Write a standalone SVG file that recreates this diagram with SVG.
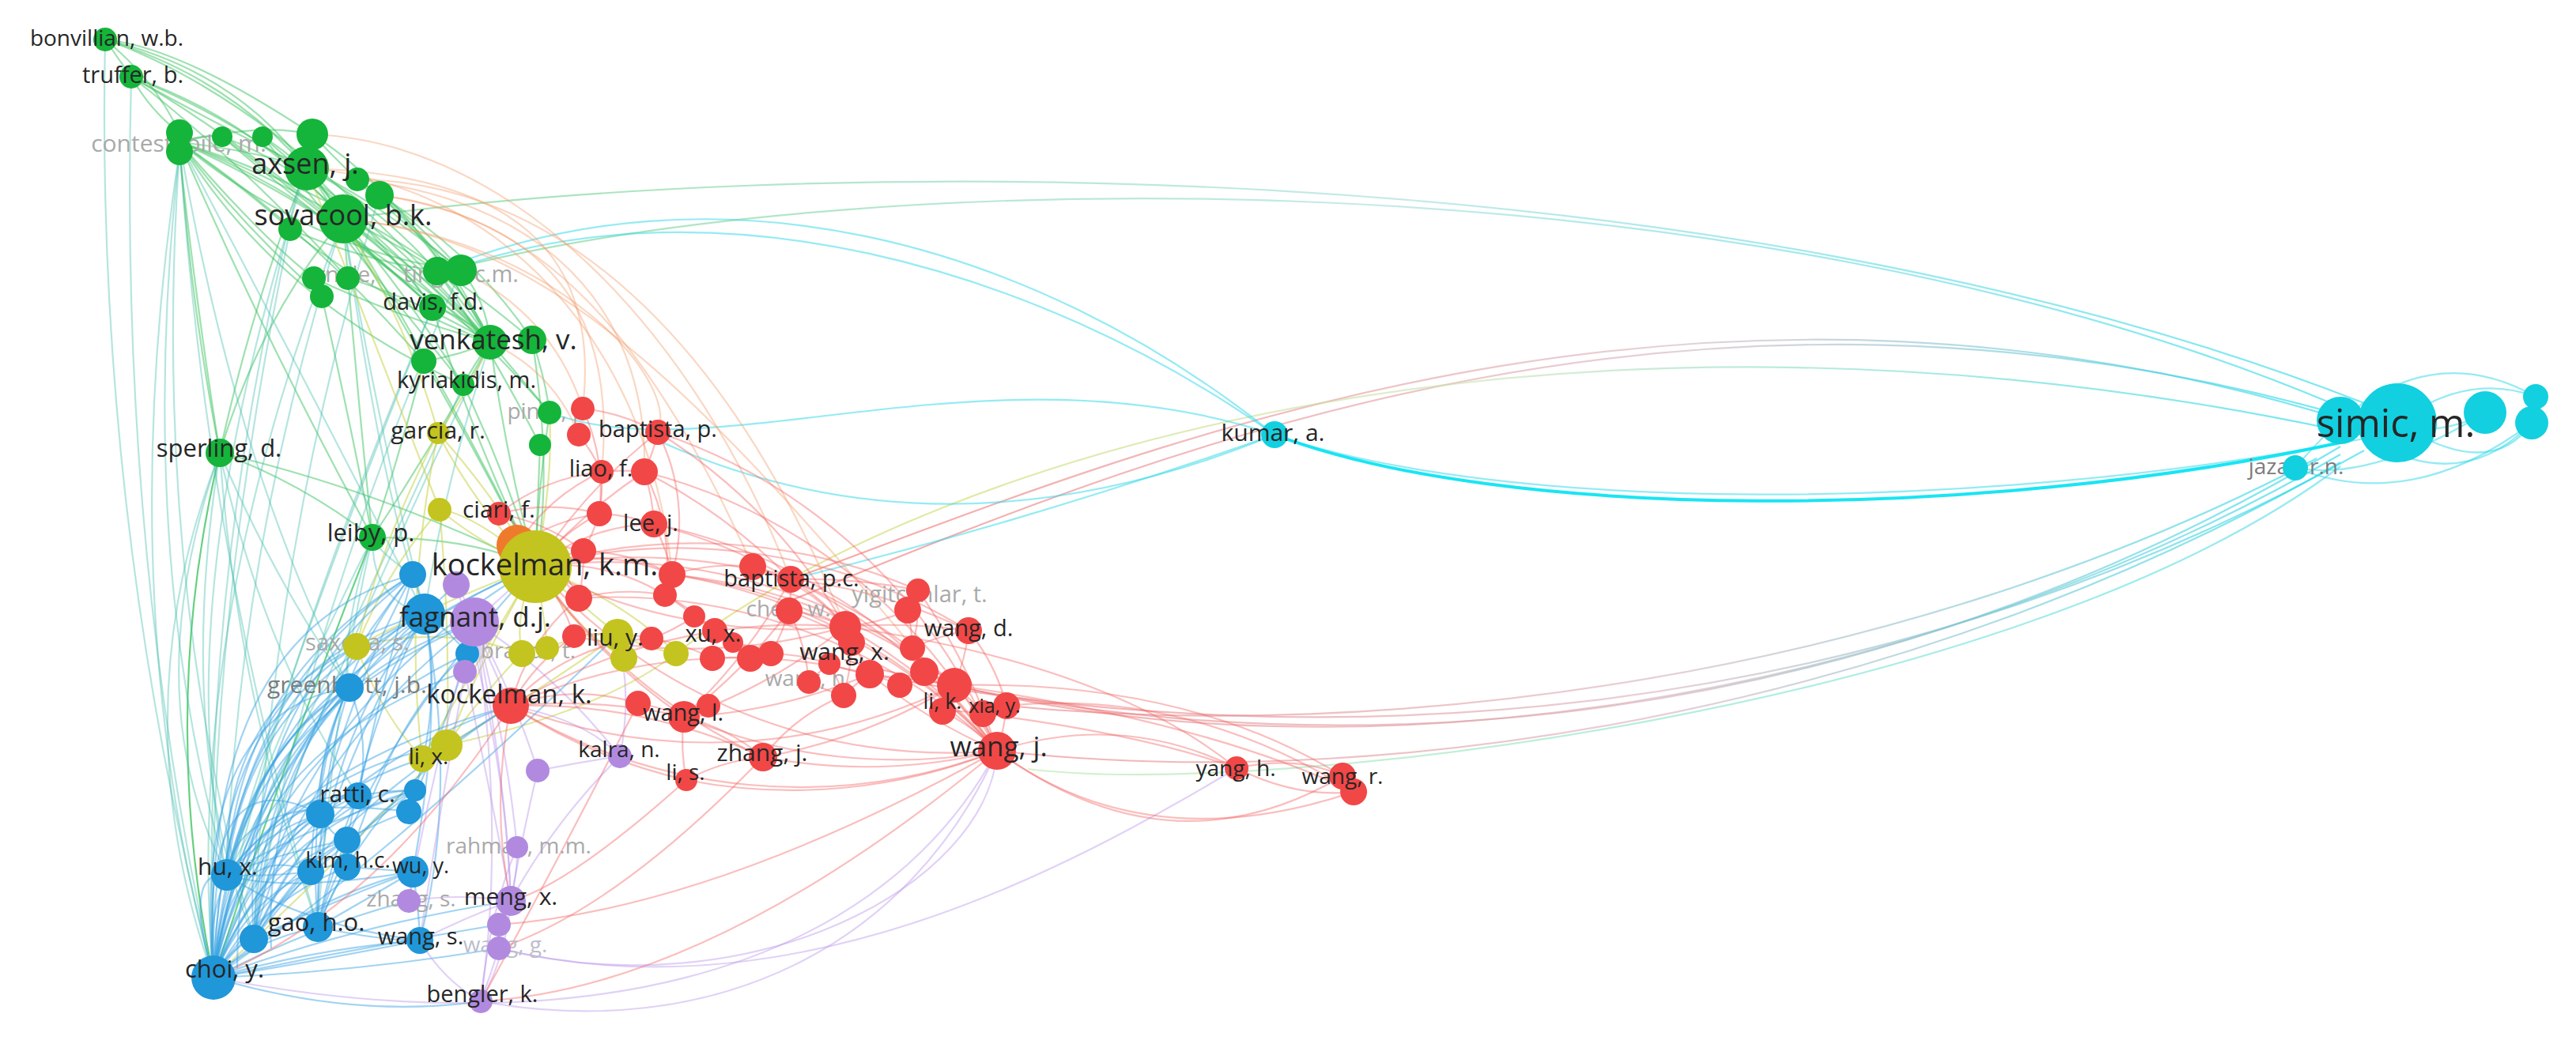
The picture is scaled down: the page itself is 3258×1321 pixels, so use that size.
<svg xmlns="http://www.w3.org/2000/svg" width="3258" height="1321" viewBox="0 0 3258 1321">
<defs>
<linearGradient id="gPC" gradientUnits="userSpaceOnUse" x1="1100" y1="0" x2="2900" y2="0"><stop offset="0" stop-color="#f27070"/><stop offset="0.55" stop-color="#d8b0b8"/><stop offset="1" stop-color="#22d8e8"/></linearGradient>
<linearGradient id="gGC" gradientUnits="userSpaceOnUse" x1="600" y1="0" x2="2900" y2="0"><stop offset="0" stop-color="#6fd08a"/><stop offset="0.5" stop-color="#9fdcd8"/><stop offset="1" stop-color="#22d8e8"/></linearGradient>
<linearGradient id="gYC" gradientUnits="userSpaceOnUse" x1="850" y1="0" x2="2900" y2="0"><stop offset="0" stop-color="#cfd84a"/><stop offset="0.5" stop-color="#c8e0b0"/><stop offset="1" stop-color="#22d8e8"/></linearGradient>
<linearGradient id="gLG" gradientUnits="userSpaceOnUse" x1="1300" y1="0" x2="2900" y2="0"><stop offset="0" stop-color="#b8e8a8"/><stop offset="1" stop-color="#50dce8"/></linearGradient>
</defs>
<style>
#connectors path{fill:none;stroke-width:2.2}
.g path{stroke:#3ec462;stroke-opacity:.5}
.t path{stroke:#45bfb0;stroke-opacity:.4}
.b path{stroke:#3ba3e3;stroke-opacity:.48}
.r path{stroke:#f26161;stroke-opacity:.42}
.y path{stroke:#c5cf3c;stroke-opacity:.5}
.p path{stroke:#bd98ea;stroke-opacity:.45}
.c path{stroke:#2ad8e8;stroke-opacity:.5}
.o path{stroke:#f29a6a;stroke-opacity:.4}
.x path{stroke-opacity:.6}
.ng{fill:#14b53a}.nr{fill:#f24747}.nb{fill:#1f97d9}.ny{fill:#c3c41f}.np{fill:#b18ae0}.nc{fill:#12d0e0}.no{fill:#f07a2c}
text{font-family:"Open Sans","Liberation Sans",sans-serif;text-anchor:middle;fill:#262626}
text.gr{fill:#a9a9a9}
text.gm{fill:#7c7c7c}
</style>
<rect width="3258" height="1321" fill="#ffffff"/>
<g id="connectors">
<g class="x">
<path stroke="url(#gGC)" d="M584,337 C1100,210 2200,190 2960,515"/>
<path stroke="url(#gGC)" d="M434,277 C1000,200 2150,180 2990,510"/>
<path stroke="url(#gPC)" d="M977,769 C1400,600 2100,280 2960,525"/>
<path stroke="url(#gPC)" d="M1000,733 C1420,580 2120,270 2960,530"/>
<path stroke="url(#gYC)" d="M855,827 C1200,560 2000,340 2960,545"/>
<path stroke="url(#gPC)" d="M1068,835 C1600,980 2300,960 2960,565"/>
<path stroke="url(#gPC)" d="M1207,867 C1700,990 2400,900 2960,575"/>
<path stroke="url(#gPC)" d="M1261,950 C1800,1010 2450,880 2960,585"/>
<path stroke="url(#gPC)" d="M1100,853 C1650,960 2350,930 2990,570"/>
<path stroke="url(#gPC)" d="M1273,893 C1750,940 2400,860 2930,580"/>
<path stroke="url(#gLG)" d="M1300,973 C1600,1010 2550,900 2960,590"/>
</g>
<g class="c">
<path d="M1612,550 C1300,330 900,230 584,337"/>
<path d="M1612,550 C1300,300 900,200 553,343"/>
<path d="M1612,550 Q1200,720 838,560"/>
<path d="M1612,550 C1250,430 900,600 695,522"/>
<path d="M1612,550 Q1300,660 1000,733"/>
<path d="M1612,550 C1900,650 2500,650 2990,555"/>
<path d="M2960,532 Q3100,640 3202,535"/>
<path d="M3032,535 Q3120,470 3207,502"/>
<path d="M2903,592 Q2930,560 2960,532"/>
<path d="M2903,592 Q3050,650 3202,535"/>
<path d="M2960,532 Q3080,560 3143,522"/>
<path d="M3032,535 Q3150,610 3202,535"/>
<path d="M2960,532 Q3080,430 3207,502"/>
<path d="M2903,592 Q3000,610 3143,522"/>
</g>
<path d="M1612,550 C1900,660 2500,660 2960,560" style="stroke:#00e2f2;stroke-width:4;stroke-opacity:.9"/>
<g class="g">
<path d="M133,50 Q150,75 166,97"/>
<path d="M133,50 Q195,100 227,168"/>
<path d="M133,50 Q330,110 434,277"/>
<path d="M133,50 Q360,130 620,433"/>
<path d="M133,50 Q300,90 388,213"/>
<path d="M133,50 Q230,60 395,170"/>
<path d="M166,97 Q190,140 227,168"/>
<path d="M166,97 Q320,150 434,277"/>
<path d="M166,97 Q400,190 620,433"/>
<path d="M166,97 Q330,190 547,389"/>
<path d="M166,97 Q260,150 388,213"/>
<path d="M227,180 Q255,170 281,173"/>
<path d="M227,180 Q330,155 395,170"/>
<path d="M227,180 Q320,190 388,213"/>
<path d="M227,180 Q330,215 434,277"/>
<path d="M227,180 Q300,230 367,290"/>
<path d="M227,180 Q390,240 547,389"/>
<path d="M227,180 Q430,270 620,433"/>
<path d="M227,180 Q460,250 673,430"/>
<path d="M227,180 Q330,300 397,352"/>
<path d="M227,180 Q240,380 278,573"/>
<path d="M227,180 Q330,420 471,680"/>
<path d="M227,180 Q400,320 583,342"/>
<path d="M227,180 Q350,380 586,487"/>
<path d="M227,180 Q300,280 407,375"/>
<path d="M281,173 Q380,210 434,277"/>
<path d="M332,173 Q400,215 434,277"/>
<path d="M281,173 Q430,300 620,433"/>
<path d="M332,173 Q470,290 620,433"/>
<path d="M395,170 Q520,250 620,433"/>
<path d="M388,213 Q520,280 620,433"/>
<path d="M388,213 Q480,300 547,389"/>
<path d="M388,213 Q530,430 677,717"/>
<path d="M434,277 Q520,330 620,433"/>
<path d="M434,277 Q500,320 547,389"/>
<path d="M434,277 Q520,380 586,487"/>
<path d="M434,277 Q580,390 695,522"/>
<path d="M434,277 Q560,480 677,717"/>
<path d="M434,277 Q330,400 278,573"/>
<path d="M434,277 Q450,480 471,680"/>
<path d="M452,227 Q560,300 620,433"/>
<path d="M480,247 Q560,320 620,433"/>
<path d="M480,247 Q600,320 673,430"/>
<path d="M367,290 Q480,380 620,433"/>
<path d="M397,352 Q500,400 620,433"/>
<path d="M440,352 Q530,380 620,433"/>
<path d="M553,343 Q600,380 620,433"/>
<path d="M583,342 Q615,380 620,433"/>
<path d="M547,389 Q590,400 620,433"/>
<path d="M620,433 Q640,580 677,717"/>
<path d="M620,433 Q600,460 586,487"/>
<path d="M620,433 Q550,560 471,680"/>
<path d="M547,389 Q600,560 677,717"/>
<path d="M278,573 Q200,900 270,1237" style="stroke-opacity:.8"/>
<path d="M278,573 Q380,610 471,680"/>
<path d="M278,573 Q480,620 677,717"/>
<path d="M278,573 Q320,380 388,213"/>
<path d="M471,680 Q600,680 677,717"/>
<path d="M586,487 Q640,600 677,717"/>
<path d="M695,522 Q680,620 677,717"/>
<path d="M683,563 Q680,640 677,717"/>
<path d="M673,430 Q700,600 677,717"/>
<path d="M620,433 Q660,480 695,522"/>
<path d="M553,343 Q620,440 683,563"/>
<path d="M407,375 Q440,520 471,680"/>
<path d="M536,457 Q510,560 471,680"/>
<path d="M536,457 Q580,450 620,433"/>
<path d="M673,430 Q690,480 695,522"/>
<path d="M471,680 Q360,960 270,1237" style="stroke-opacity:.75"/>
<path d="M278,573 Q250,400 227,192"/>
<path d="M281,173 Q400,260 547,389"/>
<path d="M332,173 Q420,280 586,487"/>
<path d="M395,170 Q480,260 583,342"/>
<path d="M367,290 Q460,330 553,343"/>
<path d="M434,277 Q490,300 553,343"/>
<path d="M388,213 Q470,250 583,342"/>
<path d="M452,227 Q520,270 583,342"/>
<path d="M227,180 Q380,280 536,457"/>
<path d="M166,97 Q300,200 440,352"/>
</g>
<g class="t">
<path d="M227,192 Q140,760 270,1237"/>
<path d="M227,192 Q170,700 287,1107"/>
<path d="M227,192 Q190,720 321,1188"/>
<path d="M278,573 Q150,900 270,1237"/>
<path d="M278,573 Q170,880 287,1107"/>
<path d="M278,573 Q220,940 321,1188"/>
<path d="M278,573 Q300,880 402,1173"/>
<path d="M278,573 Q330,820 453,1007"/>
<path d="M434,277 Q230,800 270,1237"/>
<path d="M434,277 Q300,700 287,1107"/>
<path d="M388,213 Q210,760 287,1107"/>
<path d="M166,97 Q150,700 270,1237"/>
<path d="M133,50 Q120,650 270,1237"/>
<path d="M471,680 Q360,900 287,1107"/>
<path d="M471,680 Q420,900 402,1173"/>
<path d="M471,680 Q430,800 442,870"/>
<path d="M620,433 Q420,850 270,1237"/>
<path d="M547,389 Q380,800 287,1107"/>
<path d="M583,342 Q380,800 321,1188"/>
<path d="M395,170 Q250,700 270,1237"/>
<path d="M227,180 Q300,600 442,870"/>
<path d="M278,573 Q350,740 442,870"/>
<path d="M471,680 Q470,760 537,777"/>
<path d="M471,680 Q480,700 522,727"/>
<path d="M227,180 Q370,450 537,777"/>
<path d="M434,277 Q470,500 537,777"/>
<path d="M620,433 Q560,620 537,777"/>
<path d="M434,277 Q480,600 522,727"/>
<path d="M367,290 Q260,800 270,1237"/>
<path d="M480,247 Q340,700 321,1188"/>
<path d="M547,389 Q330,900 270,1237"/>
<path d="M586,487 Q400,900 287,1107"/>
<path d="M227,180 Q260,700 402,1173"/>
</g>
<g class="o">
<path d="M434,277 C700,300 860,480 832,547"/>
<path d="M388,213 C620,230 820,420 850,727"/>
<path d="M395,170 C650,180 880,420 1000,733"/>
<path d="M452,227 C700,230 920,420 1069,793"/>
<path d="M434,277 C700,300 900,500 1261,950"/>
<path d="M452,227 C720,260 820,420 815,597"/>
<path d="M480,247 C700,280 780,400 761,597"/>
<path d="M388,213 C650,220 760,320 737,517"/>
<path d="M620,433 Q700,470 732,550"/>
<path d="M583,342 Q700,400 737,517"/>
<path d="M480,247 C680,270 820,420 952,717"/>
</g>
<g class="y">
<path d="M554,548 Q600,640 677,717"/>
<path d="M556,645 Q610,690 677,717"/>
<path d="M554,548 Q480,690 451,818"/>
<path d="M556,645 Q490,720 451,818"/>
<path d="M677,717 Q560,760 451,818"/>
<path d="M677,717 Q730,760 781,803"/>
<path d="M677,717 Q650,780 660,827"/>
<path d="M677,717 Q690,790 692,820"/>
<path d="M677,717 Q790,760 855,827"/>
<path d="M677,717 Q720,790 789,833"/>
<path d="M677,717 Q610,830 565,943"/>
<path d="M677,717 Q590,860 534,960"/>
<path d="M677,717 Q620,620 554,548"/>
<path d="M677,717 Q700,610 695,522"/>
<path d="M781,803 Q690,870 565,943"/>
<path d="M660,827 Q600,890 565,943"/>
<path d="M451,818 Q480,900 534,960"/>
<path d="M554,548 Q510,760 534,960"/>
<path d="M781,803 Q820,820 855,827"/>
<path d="M692,820 Q740,800 781,803"/>
<path d="M556,645 Q570,800 565,943"/>
<path d="M451,818 Q560,790 660,827"/>
<path d="M677,717 Q600,650 556,645"/>
<path d="M565,943 Q420,1100 270,1237"/>
<path d="M434,277 Q520,420 554,548"/>
<path d="M620,433 Q590,500 554,548"/>
<path d="M388,213 Q480,450 556,645"/>
<path d="M855,827 Q760,900 565,943"/>
</g>
<g class="b">
<path d="M270,1237 Q300,900 537,777"/>
<path d="M270,1237 Q280,880 522,727"/>
<path d="M270,1237 Q290,960 442,870"/>
<path d="M270,1237 Q320,1060 453,1007"/>
<path d="M270,1237 Q300,1080 405,1030"/>
<path d="M270,1237 Q340,1050 525,1000"/>
<path d="M270,1237 Q360,1080 517,1027"/>
<path d="M270,1237 Q320,1100 439,1063"/>
<path d="M270,1237 Q260,1170 287,1107"/>
<path d="M270,1237 Q310,1140 393,1103"/>
<path d="M270,1237 Q330,1140 439,1097"/>
<path d="M270,1237 Q380,1140 522,1103"/>
<path d="M270,1237 Q320,1190 402,1173"/>
<path d="M270,1237 Q290,1200 321,1188"/>
<path d="M270,1237 Q400,1200 531,1190"/>
<path d="M270,1237 Q330,860 677,717"/>
<path d="M270,1237 Q320,880 600,787"/>
<path d="M270,1237 Q380,980 646,893"/>
<path d="M270,1237 Q450,1170 646,1140"/>
<path d="M270,1237 Q400,1170 517,1140"/>
<path d="M270,1237 Q450,1290 608,1267"/>
<path d="M270,1237 Q340,1020 534,960"/>
<path d="M270,1237 Q280,920 451,818"/>
<path d="M270,1237 Q450,1200 631,1170"/>
<path d="M270,1237 Q450,1230 631,1200"/>
<path d="M270,1237 Q330,950 591,827"/>
<path d="M270,1237 Q310,990 565,943"/>
<path d="M270,1237 Q500,1080 781,803"/>
<path d="M270,1237 Q250,950 405,1030"/>
<path d="M270,1237 Q240,900 442,870"/>
<path d="M270,1237 Q260,850 537,777"/>
<path d="M270,1237 Q250,800 522,727"/>
<path d="M270,1237 Q300,1000 453,1007"/>
<path d="M270,1237 Q350,1130 525,1000"/>
<path d="M270,1237 Q290,1060 393,1103"/>
<path d="M270,1237 Q230,1100 287,1107"/>
<path d="M270,1237 Q380,1220 531,1190"/>
<path d="M270,1237 Q280,1000 577,740"/>
<path d="M270,1237 Q300,950 588,850"/>
<path d="M287,1107 Q310,880 537,777"/>
<path d="M287,1107 Q300,860 522,727"/>
<path d="M287,1107 Q320,950 442,870"/>
<path d="M287,1107 Q350,1020 453,1007"/>
<path d="M287,1107 Q340,1050 405,1030"/>
<path d="M287,1107 Q360,1060 525,1000"/>
<path d="M287,1107 Q340,860 677,717"/>
<path d="M287,1107 Q340,900 600,787"/>
<path d="M287,1107 Q400,960 646,893"/>
<path d="M287,1107 Q350,1080 439,1063"/>
<path d="M287,1107 Q330,1110 393,1103"/>
<path d="M287,1107 Q280,900 451,818"/>
<path d="M287,1107 Q300,1000 517,1027"/>
<path d="M287,1107 Q380,1170 531,1190"/>
<path d="M287,1107 Q360,1130 522,1103"/>
<path d="M321,1188 Q330,920 537,777"/>
<path d="M321,1188 Q340,980 442,870"/>
<path d="M321,1188 Q380,1060 453,1007"/>
<path d="M321,1188 Q380,1100 439,1063"/>
<path d="M321,1188 Q360,1140 393,1103"/>
<path d="M321,1188 Q370,900 677,717"/>
<path d="M321,1188 Q380,960 600,787"/>
<path d="M321,1188 Q420,1030 646,893"/>
<path d="M321,1188 Q420,1140 522,1103"/>
<path d="M321,1188 Q300,900 522,727"/>
<path d="M321,1188 Q340,1050 405,1030"/>
<path d="M321,1188 Q400,1000 525,1000"/>
<path d="M402,1173 Q400,950 537,777"/>
<path d="M402,1173 Q400,1000 442,870"/>
<path d="M402,1173 Q420,1080 453,1007"/>
<path d="M402,1173 Q420,1130 439,1097"/>
<path d="M402,1173 Q460,1140 522,1103"/>
<path d="M402,1173 Q480,1190 531,1190"/>
<path d="M402,1173 Q450,960 677,717"/>
<path d="M402,1173 Q470,1000 646,893"/>
<path d="M402,1173 Q380,900 522,727"/>
<path d="M402,1173 Q440,1040 525,1000"/>
<path d="M442,870 Q480,800 537,777"/>
<path d="M442,870 Q470,940 453,1007"/>
<path d="M442,870 Q400,950 405,1030"/>
<path d="M453,1007 Q490,1000 525,1000"/>
<path d="M405,1030 Q420,1060 439,1063"/>
<path d="M439,1063 Q430,1080 439,1097"/>
<path d="M393,1103 Q430,1090 439,1097"/>
<path d="M439,1097 Q480,1100 522,1103"/>
<path d="M522,1103 Q530,1150 531,1190"/>
<path d="M525,1000 Q560,880 537,777"/>
<path d="M517,1027 Q570,900 591,827"/>
<path d="M537,777 Q530,750 522,727"/>
<path d="M537,777 Q570,800 591,827"/>
<path d="M522,1103 Q560,900 537,777"/>
<path d="M531,1190 Q580,1000 537,777"/>
<path d="M453,1007 Q480,880 522,727"/>
<path d="M393,1103 Q460,900 537,777"/>
<path d="M343,1200 Q330,960 522,727"/>
<path d="M300,1225 Q300,980 442,870"/>
<path d="M393,1103 Q400,950 442,870"/>
<path d="M439,1063 Q470,900 537,777"/>
<path d="M405,1030 Q440,880 522,727"/>
<path d="M439,1097 Q500,900 591,827"/>
</g>
<g class="p">
<path d="M600,787 Q590,760 577,740"/>
<path d="M600,787 Q595,820 588,850"/>
<path d="M600,787 Q640,750 677,717"/>
<path d="M600,787 Q620,840 646,893"/>
<path d="M600,787 Q700,850 784,957"/>
<path d="M600,787 Q650,880 680,975"/>
<path d="M600,787 Q640,930 654,1072"/>
<path d="M600,787 Q640,980 646,1140"/>
<path d="M600,787 Q550,960 517,1140"/>
<path d="M600,787 Q640,1050 608,1267"/>
<path d="M577,740 Q640,950 646,1140"/>
<path d="M784,957 Q700,1040 646,1140"/>
<path d="M680,975 Q660,1060 646,1140"/>
<path d="M654,1072 Q655,1100 646,1140"/>
<path d="M654,1072 Q620,1150 608,1267"/>
<path d="M646,1140 Q640,1160 631,1170"/>
<path d="M631,1170 Q630,1185 631,1200"/>
<path d="M631,1200 Q620,1235 608,1267"/>
<path d="M646,1140 Q640,1210 608,1267"/>
<path d="M517,1140 Q580,1130 646,1140"/>
<path d="M608,1267 Q560,1240 531,1190"/>
<path d="M646,1140 Q590,1160 531,1190"/>
<path d="M517,1140 Q520,1120 522,1103"/>
<path d="M784,957 Q740,910 646,893"/>
<path d="M784,957 Q800,880 781,803"/>
<path d="M588,850 Q620,1000 646,1140"/>
<path d="M608,1267 C900,1320 1150,1200 1261,950"/>
<path d="M631,1200 C950,1280 1250,1120 1261,950"/>
<path d="M631,1200 C1000,1290 1350,1100 1564,972"/>
<path d="M600,787 Q560,1000 531,1190"/>
<path d="M680,975 Q760,960 784,957"/>
<path d="M270,1237 C700,1320 1100,1250 1261,950"/>
</g>
<g class="r">
<path d="M737,517A250,250 0 0 1 832,547"/>
<path d="M732,550A250,250 0 0 1 761,597"/>
<path d="M832,547A250,250 0 0 1 815,597"/>
<path d="M761,597A250,250 0 0 1 815,597"/>
<path d="M761,597A250,250 0 0 1 758,650"/>
<path d="M815,597A250,250 0 0 1 827,663"/>
<path d="M758,650A250,250 0 0 1 827,663"/>
<path d="M758,650A250,250 0 0 1 738,697"/>
<path d="M827,663A250,250 0 0 1 850,727"/>
<path d="M738,697A250,250 0 0 1 850,727"/>
<path d="M738,697A250,250 0 0 1 732,757"/>
<path d="M850,727A250,250 0 0 1 841,753"/>
<path d="M732,757A250,250 0 0 1 841,753"/>
<path d="M841,753A250,250 0 0 1 878,780"/>
<path d="M878,780A250,250 0 0 1 824,808"/>
<path d="M726,805A250,250 0 0 1 824,808"/>
<path d="M824,808A250,250 0 0 1 901,833"/>
<path d="M850,727A250,250 0 0 1 952,717"/>
<path d="M952,717A250,250 0 0 1 1000,733"/>
<path d="M1000,733A250,250 0 0 1 998,773"/>
<path d="M998,773A250,250 0 0 1 1069,793"/>
<path d="M952,717A250,250 0 0 1 1069,793"/>
<path d="M1161,747A250,250 0 0 1 1148,772"/>
<path d="M1148,772A250,250 0 0 1 1069,793"/>
<path d="M1148,772A250,250 0 0 1 1154,820"/>
<path d="M1069,793A250,250 0 0 1 1077,813"/>
<path d="M1077,813A250,250 0 0 1 1100,853"/>
<path d="M1100,853A250,250 0 0 1 1138,867"/>
<path d="M1138,867A250,250 0 0 1 1169,850"/>
<path d="M1154,820A250,250 0 0 1 1169,850"/>
<path d="M1154,820A250,250 0 0 1 1225,798"/>
<path d="M1169,850A250,250 0 0 1 1207,867"/>
<path d="M1207,867A250,250 0 0 1 1192,900"/>
<path d="M1207,867A250,250 0 0 1 1243,903"/>
<path d="M1192,900A250,250 0 0 1 1243,903"/>
<path d="M1243,903A250,250 0 0 1 1273,893"/>
<path d="M1273,893A250,250 0 0 1 1261,950"/>
<path d="M1207,867A250,250 0 0 1 1261,950"/>
<path d="M1192,900A250,250 0 0 1 1261,950"/>
<path d="M1225,798A250,250 0 0 1 1207,867"/>
<path d="M1100,853A250,250 0 0 1 1049,840"/>
<path d="M1023,863A250,250 0 0 1 1049,840"/>
<path d="M1067,880A250,250 0 0 1 1023,863"/>
<path d="M1067,880A250,250 0 0 1 1100,853"/>
<path d="M975,827A250,250 0 0 1 1049,840"/>
<path d="M949,833A250,250 0 0 1 975,827"/>
<path d="M901,833A250,250 0 0 1 949,833"/>
<path d="M904,798A250,250 0 0 1 949,833"/>
<path d="M927,813A250,250 0 0 1 975,827"/>
<path d="M896,893A250,250 0 0 1 865,907"/>
<path d="M807,890A250,250 0 0 1 865,907"/>
<path d="M865,907A250,250 0 0 1 965,958"/>
<path d="M965,958A250,250 0 0 1 1067,880"/>
<path d="M868,987A250,250 0 0 1 865,907"/>
<path d="M868,987A250,250 0 0 1 965,958"/>
<path d="M646,893A250,250 0 0 1 726,805"/>
<path d="M646,893A250,250 0 0 1 732,757"/>
<path d="M646,893A250,250 0 0 1 807,890"/>
<path d="M646,893A250,250 0 0 1 824,808"/>
<path d="M998,773A250,250 0 0 1 1023,863"/>
<path d="M1000,733A250,250 0 0 1 1069,793"/>
<path d="M904,798A250,250 0 0 1 878,780"/>
<path d="M841,753A250,250 0 0 1 904,798"/>
<path d="M1077,813A250,250 0 0 1 1067,880"/>
<path d="M1049,840A250,250 0 0 1 1067,880"/>
<path d="M1161,747A250,250 0 0 1 1154,820"/>
<path d="M1225,798A250,250 0 0 1 1273,893"/>
<path d="M998,773A250,250 0 0 1 975,827"/>
<path d="M654,690A250,250 0 0 1 761,597"/>
<path d="M654,690A250,250 0 0 1 758,650"/>
<path d="M654,690A250,250 0 0 1 738,697"/>
<path d="M654,690A250,250 0 0 1 732,757"/>
<path d="M677,717A250,250 0 0 1 738,697"/>
<path d="M677,717A250,250 0 0 1 850,727"/>
<path d="M677,717A250,250 0 0 1 841,753"/>
<path d="M677,717A250,250 0 0 1 827,663"/>
<path d="M677,717A250,250 0 0 1 758,650"/>
<path d="M677,717A250,250 0 0 1 726,805"/>
<path d="M631,650A250,250 0 0 1 758,650"/>
<path d="M631,650A250,250 0 0 1 738,697"/>
<path d="M631,650A250,250 0 0 1 761,597"/>
<path d="M631,650A250,250 0 0 1 732,757"/>
<path d="M737,517A250,250 0 0 1 758,650"/>
<path d="M832,547A250,250 0 0 1 850,727"/>
<path d="M815,597A250,250 0 0 1 841,753"/>
<path d="M646,893A700,700 0 0 1 865,907"/>
<path d="M646,893A700,700 0 0 1 965,958"/>
<path d="M646,893A700,700 0 0 0 1261,950"/>
<path d="M646,893A700,700 0 0 1 1069,793"/>
<path d="M646,893A700,700 0 0 0 868,987"/>
<path d="M646,893A700,700 0 0 1 1100,853"/>
<path d="M646,893A700,700 0 0 0 1207,867"/>
<path d="M677,717A700,700 0 0 1 1000,733"/>
<path d="M677,717A700,700 0 0 0 1069,793"/>
<path d="M677,717A700,700 0 0 0 1261,950"/>
<path d="M677,717A700,700 0 0 1 1207,867"/>
<path d="M677,717A700,700 0 0 0 865,907"/>
<path d="M677,717A700,700 0 0 0 965,958"/>
<path d="M677,717A700,700 0 0 1 815,597"/>
<path d="M677,717A700,700 0 0 1 832,547"/>
<path d="M677,717A700,700 0 0 1 1225,798"/>
<path d="M677,717A700,700 0 0 1 1161,747"/>
<path d="M1261,950A700,700 0 0 0 1069,793"/>
<path d="M1261,950A700,700 0 0 1 1100,853"/>
<path d="M1261,950A700,700 0 0 0 998,773"/>
<path d="M1261,950A700,700 0 0 0 1000,733"/>
<path d="M1261,950A700,700 0 0 0 850,727"/>
<path d="M1261,950A700,700 0 0 0 827,663"/>
<path d="M1261,950A700,700 0 0 0 815,597"/>
<path d="M1261,950A700,700 0 0 0 832,547"/>
<path d="M1261,950A700,700 0 0 1 965,958"/>
<path d="M1261,950A700,700 0 0 1 868,987"/>
<path d="M1261,950A700,700 0 0 1 865,907"/>
<path d="M1261,950A700,700 0 0 0 732,757"/>
<path d="M1261,950A700,700 0 0 0 1161,747"/>
<path d="M1207,867A700,700 0 0 0 1000,733"/>
<path d="M1207,867A700,700 0 0 0 850,727"/>
<path d="M1207,867A700,700 0 0 1 965,958"/>
<path d="M1069,793A700,700 0 0 0 832,547"/>
<path d="M1069,793A700,700 0 0 0 850,727"/>
<path d="M1069,793A700,700 0 0 1 865,907"/>
<path d="M1069,793A700,700 0 0 1 726,805"/>
<path d="M1000,733A700,700 0 0 0 827,663"/>
<path d="M1000,733A700,700 0 0 0 815,597"/>
<path d="M1000,733A700,700 0 0 1 865,907"/>
<path d="M998,773A700,700 0 0 1 865,907"/>
<path d="M1100,853A700,700 0 0 1 865,907"/>
<path d="M1225,798A700,700 0 0 0 1000,733"/>
<path d="M1225,798A700,700 0 0 0 1069,793"/>
<path d="M1161,747A700,700 0 0 0 1000,733"/>
<path d="M1261,950 Q900,1250 608,1267"/>
<path d="M868,987 Q720,1120 646,1140"/>
<path d="M965,958 Q780,1150 631,1200"/>
<path d="M646,893 Q480,1150 270,1237"/>
<path d="M807,890 Q700,1100 608,1267"/>
<path d="M646,893 Q620,1020 646,1140"/>
<path d="M1261,950 Q900,1150 631,1170"/>
<path d="M1069,793 Q1400,840 1564,972"/>
<path d="M1207,867 Q1500,860 1698,982"/>
<path d="M1100,853 Q1500,900 1712,1002"/>
<path d="M1261,950 Q1450,1090 1712,1002"/>
<path d="M1261,950 Q1480,1110 1698,982"/>
<path d="M1261,950 Q1420,900 1564,972"/>
<path d="M1564,972 Q1640,955 1698,982"/>
<path d="M1243,903 Q1450,930 1564,972"/>
<path d="M1273,893 Q1500,870 1712,1002"/>
<path d="M1564,972 Q1640,1010 1712,1002"/>
</g>
</g>
<g id="n-contestabile"><text class="gr" x="226" y="192" font-size="30">contestabile, m.</text><circle class="ng" cx="227" cy="168" r="17"/><circle class="ng" cx="227" cy="192" r="17"/></g>
<g id="n-arnole"><text class="gr" x="430" y="357" font-size="28">arnole,</text><circle class="ng" cx="440" cy="352" r="15"/></g>
<g id="n-tingle"><text class="gr" x="583" y="357" font-size="29">tingle, c.m.</text><circle class="ng" cx="583" cy="342" r="20"/></g>
<g id="n-pinto"><text class="gr" x="695" y="530" font-size="28">pinto, p.</text><circle class="ng" cx="695" cy="522" r="15"/></g>
<g id="n-saxena"><text class="gr" x="452" y="823" font-size="29">saxena, s.</text><circle class="ny" cx="451" cy="818" r="17"/></g>
<g id="n-brandt"><text class="gr" x="668" y="833" font-size="28">brandt, t.</text><circle class="ny" cx="660" cy="827" r="17"/></g>
<g id="n-greenblatt"><text class="gm" x="439" y="877" font-size="30">greenblatt, j.b.</text><circle class="nb" cx="442" cy="870" r="18"/></g>
<g id="n-rahman"><text class="gr" x="656" y="1080" font-size="28">rahman, m.m.</text><circle class="np" cx="654" cy="1072" r="14"/></g>
<g id="n-zhang-s"><text class="gr" x="520" y="1147" font-size="28">zhang, s.</text><circle class="np" cx="517" cy="1140" r="15"/></g>
<g id="n-wang-g"><text class="gr" x="639" y="1205" font-size="28" style="fill:#bdbdcc">wang, g.</text><circle class="np" cx="631" cy="1200" r="15"/></g>
<g id="n-yigitcanlar"><text class="gr" x="1163" y="762" font-size="29">yigitcanlar, t.</text><circle class="nr" cx="1161" cy="747" r="15"/></g>
<g id="n-chen-w"><text class="gr" x="997" y="780" font-size="28">chen, w.</text><circle class="nr" cx="998" cy="773" r="17"/></g>
<g id="n-wang-h"><text class="gr" x="1022" y="868" font-size="28">wang, h.</text><circle class="nr" cx="1023" cy="863" r="15"/></g>
<g id="n-jazar"><text class="gm" x="2904" y="600" font-size="28">jazar, r.n.</text><circle class="nc" cx="2903" cy="592" r="16"/></g>
<g id="n-g4"><circle class="ng" cx="281" cy="173" r="13"/></g>
<g id="n-g5"><circle class="ng" cx="332" cy="173" r="13"/></g>
<g id="n-g6"><circle class="ng" cx="395" cy="170" r="20"/></g>
<g id="n-g8"><circle class="ng" cx="452" cy="227" r="15"/></g>
<g id="n-g9"><circle class="ng" cx="480" cy="247" r="18"/></g>
<g id="n-g11"><circle class="ng" cx="367" cy="290" r="15"/></g>
<g id="n-g12"><circle class="ng" cx="397" cy="352" r="15"/></g>
<g id="n-g13"><circle class="ng" cx="407" cy="375" r="15"/></g>
<g id="n-g15"><circle class="ng" cx="553" cy="343" r="18"/></g>
<g id="n-g19"><circle class="ng" cx="673" cy="430" r="18"/></g>
<g id="n-g20"><circle class="ng" cx="536" cy="457" r="16"/></g>
<g id="n-g23"><circle class="ng" cx="683" cy="563" r="14"/></g>
<g id="n-y2"><circle class="ny" cx="556" cy="645" r="15"/></g>
<g id="n-y6"><circle class="ny" cx="692" cy="820" r="15"/></g>
<g id="n-y8"><circle class="ny" cx="789" cy="833" r="17"/></g>
<g id="n-y9"><circle class="ny" cx="855" cy="827" r="16"/></g>
<g id="n-y11"><circle class="ny" cx="565" cy="943" r="20"/></g>
<g id="n-b1"><circle class="nb" cx="522" cy="727" r="17"/></g>
<g id="n-b2"><circle class="nb" cx="537" cy="777" r="26"/></g>
<g id="n-b3"><circle class="nb" cx="591" cy="827" r="15"/></g>
<g id="n-b6"><circle class="nb" cx="405" cy="1030" r="18"/></g>
<g id="n-b7"><circle class="nb" cx="525" cy="1000" r="14"/></g>
<g id="n-b8"><circle class="nb" cx="517" cy="1027" r="16"/></g>
<g id="n-b9"><circle class="nb" cx="439" cy="1063" r="17"/></g>
<g id="n-b11"><circle class="nb" cx="393" cy="1103" r="17"/></g>
<g id="n-b15"><circle class="nb" cx="321" cy="1188" r="18"/></g>
<g id="n-p1"><circle class="np" cx="577" cy="740" r="17"/></g>
<g id="n-p3"><circle class="np" cx="588" cy="850" r="15"/></g>
<g id="n-p5"><circle class="np" cx="680" cy="975" r="15"/></g>
<g id="n-p9"><circle class="np" cx="631" cy="1170" r="15"/></g>
<g id="n-r1"><circle class="nr" cx="737" cy="517" r="15"/></g>
<g id="n-r2"><circle class="nr" cx="732" cy="550" r="15"/></g>
<g id="n-r5"><circle class="nr" cx="815" cy="597" r="17"/></g>
<g id="n-r7"><circle class="nr" cx="758" cy="650" r="16"/></g>
<g id="n-r9"><circle class="nr" cx="738" cy="697" r="16"/></g>
<g id="n-r10"><circle class="nr" cx="850" cy="727" r="17"/></g>
<g id="n-r11"><circle class="nr" cx="732" cy="757" r="17"/></g>
<g id="n-r12"><circle class="nr" cx="841" cy="753" r="15"/></g>
<g id="n-r13"><circle class="nr" cx="878" cy="780" r="14"/></g>
<g id="n-r14"><circle class="nr" cx="726" cy="805" r="15"/></g>
<g id="n-r15"><circle class="nr" cx="824" cy="808" r="15"/></g>
<g id="n-r16"><circle class="nr" cx="952" cy="717" r="17"/></g>
<g id="n-r19"><circle class="nr" cx="1148" cy="772" r="17"/></g>
<g id="n-r21b"><circle class="nr" cx="927" cy="813" r="13"/></g>
<g id="n-r22"><circle class="nr" cx="901" cy="833" r="16"/></g>
<g id="n-r23"><circle class="nr" cx="949" cy="833" r="17"/></g>
<g id="n-r24"><circle class="nr" cx="975" cy="827" r="16"/></g>
<g id="n-r25"><circle class="nr" cx="1069" cy="793" r="20"/></g>
<g id="n-r27"><circle class="nr" cx="1154" cy="820" r="16"/></g>
<g id="n-r28"><circle class="nr" cx="1100" cy="853" r="18"/></g>
<g id="n-r29"><circle class="nr" cx="1138" cy="867" r="16"/></g>
<g id="n-r30"><circle class="nr" cx="1169" cy="850" r="18"/></g>
<g id="n-r31"><circle class="nr" cx="1067" cy="880" r="16"/></g>
<g id="n-r33"><circle class="nr" cx="1049" cy="840" r="14"/></g>
<g id="n-r35"><circle class="nr" cx="1207" cy="867" r="22"/></g>
<g id="n-r38"><circle class="nr" cx="1273" cy="893" r="17"/></g>
<g id="n-r41"><circle class="nr" cx="807" cy="890" r="16"/></g>
<g id="n-r43"><circle class="nr" cx="896" cy="893" r="15"/></g>
<g id="n-r48"><circle class="nr" cx="1712" cy="1002" r="17"/></g>
<g id="n-o1"><circle class="no" cx="654" cy="690" r="26"/></g>
<g id="n-c2"><circle class="nc" cx="2960" cy="532" r="30"/></g>
<g id="n-c4"><circle class="nc" cx="3143" cy="522" r="27"/></g>
<g id="n-c5"><circle class="nc" cx="3207" cy="502" r="16"/></g>
<g id="n-c6"><circle class="nc" cx="3202" cy="535" r="21"/></g>
<g id="n-simic"><circle class="nc" cx="3032" cy="535" r="50"/><text x="3030" y="553" font-size="49">simic, m.</text></g>
<g id="n-kockelman-km"><circle class="ny" cx="677" cy="717" r="46"/><text x="689" y="728" font-size="38">kockelman, k.m.</text></g>
<g id="n-sovacool"><circle class="ng" cx="434" cy="277" r="31"/><text x="434" y="285" font-size="36">sovacool, b.k.</text></g>
<g id="n-fagnant"><circle class="np" cx="600" cy="787" r="31"/><text x="601" y="793" font-size="35">fagnant, d.j.</text></g>
<g id="n-axsen"><circle class="ng" cx="388" cy="213" r="28"/><text x="386" y="220" font-size="36">axsen, j.</text></g>
<g id="n-choi"><circle class="nb" cx="270" cy="1237" r="28"/><text x="284" y="1237" font-size="31">choi, y.</text></g>
<g id="n-wang-j"><circle class="nr" cx="1261" cy="950" r="24"/><text x="1263" y="957" font-size="35">wang, j.</text></g>
<g id="n-kockelman-k"><circle class="nr" cx="646" cy="893" r="23"/><text x="644" y="890" font-size="33">kockelman, k.</text></g>
<g id="n-venkatesh"><circle class="ng" cx="620" cy="433" r="22"/><text x="624" y="442" font-size="35">venkatesh, v.</text></g>
<g id="n-wang-l"><circle class="nr" cx="865" cy="907" r="20"/><text x="864" y="912" font-size="29">wang, l.</text></g>
<g id="n-liu-y"><circle class="ny" cx="781" cy="803" r="20"/><text x="778" y="817" font-size="30">liu, y.</text></g>
<g id="n-hu-x"><circle class="nb" cx="287" cy="1107" r="20"/><text x="288" y="1107" font-size="30">hu, x.</text></g>
<g id="n-wu-y"><circle class="nb" cx="522" cy="1103" r="20"/><text x="532" y="1105" font-size="27">wu, y.</text></g>
<g id="n-gao"><circle class="nb" cx="402" cy="1173" r="19"/><text x="400" y="1178" font-size="31">gao, h.o.</text></g>
<g id="n-meng"><circle class="np" cx="646" cy="1140" r="19"/><text x="646" y="1145" font-size="30">meng, x.</text></g>
<g id="n-sperling"><circle class="ng" cx="278" cy="573" r="18"/><text x="277" y="578" font-size="31">sperling, d.</text></g>
<g id="n-zhang-j"><circle class="nr" cx="965" cy="958" r="18"/><text x="964" y="963" font-size="30">zhang, j.</text></g>
<g id="n-wang-x"><circle class="nr" cx="1077" cy="813" r="17"/><text x="1068" y="835" font-size="30">wang, x.</text></g>
<g id="n-leiby"><circle class="ng" cx="471" cy="680" r="17"/><text x="469" y="685" font-size="31">leiby, p.</text></g>
<g id="n-davis"><circle class="ng" cx="547" cy="389" r="17"/><text x="548" y="392" font-size="29">davis, f.d.</text></g>
<g id="n-lee"><circle class="nr" cx="827" cy="663" r="17"/><text x="823" y="672" font-size="29">lee, j.</text></g>
<g id="n-baptista-pc"><circle class="nr" cx="1000" cy="733" r="17"/><text x="1001" y="742" font-size="29">baptista, p.c.</text></g>
<g id="n-wang-d"><circle class="nr" cx="1225" cy="798" r="17"/><text x="1225" y="805" font-size="29">wang, d.</text></g>
<g id="n-li-k"><circle class="nr" cx="1192" cy="900" r="17"/><text x="1192" y="897" font-size="27">li, k.</text></g>
<g id="n-xia"><circle class="nr" cx="1243" cy="903" r="17"/><text x="1258" y="902" font-size="25">xia, y.</text></g>
<g id="n-ratti"><circle class="nb" cx="453" cy="1007" r="17"/><text x="452" y="1015" font-size="30">ratti, c.</text></g>
<g id="n-kim"><circle class="nb" cx="439" cy="1097" r="17"/><text x="440" y="1098" font-size="28">kim, h.c.</text></g>
<g id="n-li-x"><circle class="ny" cx="534" cy="960" r="17"/><text x="542" y="967" font-size="28">li, x.</text></g>
<g id="n-wang-s"><circle class="nb" cx="531" cy="1190" r="17"/><text x="532" y="1195" font-size="29">wang, s.</text></g>
<g id="n-wang-r"><circle class="nr" cx="1698" cy="982" r="17"/><text x="1698" y="992" font-size="28">wang, r.</text></g>
<g id="n-kumar"><circle class="nc" cx="1612" cy="550" r="17"/><text x="1610" y="558" font-size="30">kumar, a.</text></g>
<g id="n-baptista-p"><circle class="nr" cx="832" cy="547" r="16"/><text x="832" y="553" font-size="29">baptista, p.</text></g>
<g id="n-xu"><circle class="nr" cx="904" cy="798" r="16"/><text x="902" y="812" font-size="29">xu, x.</text></g>
<g id="n-bonvillian"><circle class="ng" cx="133" cy="50" r="15"/><text x="135" y="58" font-size="28">bonvillian, w.b.</text></g>
<g id="n-truffer"><circle class="ng" cx="166" cy="97" r="15"/><text x="168" y="105" font-size="29">truffer, b.</text></g>
<g id="n-kyriakidis"><circle class="ng" cx="586" cy="487" r="14"/><text x="590" y="491" font-size="29">kyriakidis, m.</text></g>
<g id="n-garcia"><circle class="ny" cx="554" cy="548" r="14"/><text x="554" y="555" font-size="30">garcia, r.</text></g>
<g id="n-liao"><circle class="nr" cx="761" cy="597" r="15"/><text x="760" y="603" font-size="29">liao, f.</text></g>
<g id="n-ciari"><circle class="nr" cx="631" cy="650" r="15"/><text x="631" y="655" font-size="30">ciari, f.</text></g>
<g id="n-kalra"><circle class="np" cx="784" cy="957" r="15"/><text x="783" y="958" font-size="28">kalra, n.</text></g>
<g id="n-li-s"><circle class="nr" cx="868" cy="987" r="14"/><text x="867" y="987" font-size="28">li, s.</text></g>
<g id="n-bengler"><circle class="np" cx="608" cy="1267" r="15"/><text x="610" y="1268" font-size="29">bengler, k.</text></g>
<g id="n-yang"><circle class="nr" cx="1564" cy="972" r="15"/><text x="1563" y="982" font-size="28">yang, h.</text></g>
</svg>
